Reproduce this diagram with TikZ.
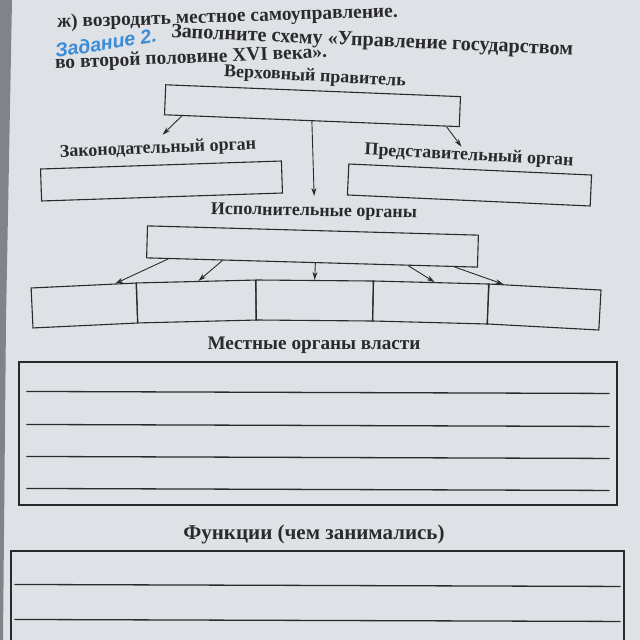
\documentclass[tikz,border=0pt]{standalone}
\usepackage{fontspec}
\setmainfont{Liberation Serif}
\newfontfamily\taskfont{Liberation Sans}
\usetikzlibrary{arrows.meta,calc}
\definecolor{page}{RGB}{222,226,230}
\definecolor{ink}{RGB}{42,42,45}
\definecolor{taskblue}{RGB}{58,140,214}
\definecolor{pageedge}{RGB}{128,132,138}
\begin{document}
\begin{tikzpicture}[x=1pt,y=-1pt,
  box/.style={draw=ink,line width=1.1pt,inner sep=0pt,fill=none},
  lbl/.style={text=ink,font=\bfseries\fontsize{18}{20}\selectfont,inner sep=0pt},
  fs/.style={font=\bfseries\fontsize{#1}{#1}\selectfont},
  arr/.style={draw=ink,line width=0.9pt,-{Stealth[length=8pt,width=5pt]}},
  rule/.style={draw=ink,line width=1.3pt}]
\useasboundingbox (0,0) rectangle (640,640);
\clip (0,0) rectangle (640,640);
\fill[page] (0,0) rectangle (640,640);
\fill[pageedge] (0,0) -- (12,0) -- (6,320) -- (3,640) -- (0,640) -- cycle;

% heading texts
\node[lbl,fs=19.4,anchor=west,rotate=1.8] (tOld) at (57,23) {ж) возродить местное самоуправление.};
\node[anchor=west,rotate=9,inner sep=0pt,text=taskblue,font=\taskfont\bfseries\itshape\fontsize{19.5}{20}\selectfont] (tTask) at (55,51) {Задание 2.};
\node[lbl,fs=20.2,anchor=west,rotate=-2.5] (tHead1) at (171,33) {Заполните схему «Управление государством};
\node[lbl,fs=19.4,anchor=west,rotate=2.3] (tHead2) at (55,64) {во второй половине XVI века».};

% supreme ruler
\node[lbl,rotate=-3] (tSup) at (315,77) {Верховный правитель};
\node[box,minimum width=295pt,minimum height=30pt,rotate=-2.3] (sup) at (312.5,105.7) {};

% legislative / representative
\node[lbl,rotate=2.3] (tLeg) at (158,149) {Законодательный орган};
\node[box,minimum width=241pt,minimum height=32pt,rotate=1.9] (leg) at (161.5,181) {};
\node[lbl,rotate=-3] (tRep) at (469,156) {Представительный орган};
\node[box,minimum width=243pt,minimum height=31pt,rotate=-2.6] (rep) at (469.5,185) {};

% executive
\node[lbl,rotate=-1] (tExec) at (314,212) {Исполнительные органы};
\node[box,minimum width=331pt,minimum height=32pt,rotate=-1.6] (exec) at (312.5,246.5) {};

% row of five boxes
\node[box,minimum width=105pt,minimum height=40pt,rotate=2.7] (b1) at (84.5,305.5) {};
\node[box,minimum width=119pt,minimum height=40pt,rotate=1.4] (b2) at (196.5,301.5) {};
\node[box,minimum width=117pt,minimum height=40pt,rotate=-0.5] (b3) at (314.5,300.5) {};
\node[box,minimum width=115pt,minimum height=40pt,rotate=-1.5] (b4) at (430.5,302.5) {};
\node[box,minimum width=112pt,minimum height=40pt,rotate=-3.1] (b5) at (544,307) {};

% arrows
\draw[arr] ($(sup.south west)!0.06!(sup.south east)$) -- ($(tLeg.north)+(5,-6)$);
\draw[arr] (sup.south) -- ($(tExec.north)+(0,-8)$);
\draw[arr] ($(sup.south west)!0.955!(sup.south east)$) -- ($(tRep.north)+(-8,-1)$);
\draw[arr] ($(exec.south west)!0.066!(exec.south east)$) -- ($(b1.north west)!0.8!(b1.north east)$);
\draw[arr] ($(exec.south west)!0.23!(exec.south east)$) -- ($(b2.north west)!0.52!(b2.north east)$);
\draw[arr] ($(exec.south west)!0.51!(exec.south east)$) -- ($(b3.north west)!0.5!(b3.north east)$);
\draw[arr] ($(exec.south west)!0.79!(exec.south east)$) -- ($(b4.north west)!0.53!(b4.north east)$);
\draw[arr] ($(exec.south west)!0.93!(exec.south east)$) -- ($(b5.north west)!0.13!(b5.north east)$);

% local authorities
\node[lbl,fs=19.2] (tLoc) at (314,345) {Местные органы власти};
\node[box,minimum width=598pt,minimum height=143pt] (loc) at (318,433.5) {};
\foreach \d in {30,63,95,127}
  \draw[rule] ($(loc.north west)+(8,\d)$) -- ($(loc.north east)+(-8,\d+2)$);

% functions
\node[lbl,fs=21] (tFun) at (314,534) {Функции (чем занимались)};
\node[box,minimum width=613pt,minimum height=129pt] (fun) at (317.5,615.5) {};
\foreach \d in {34,69}
  \draw[rule] ($(fun.north west)+(4,\d)$) -- ($(fun.north east)+(-4,\d+2)$);
\end{tikzpicture}
\end{document}
